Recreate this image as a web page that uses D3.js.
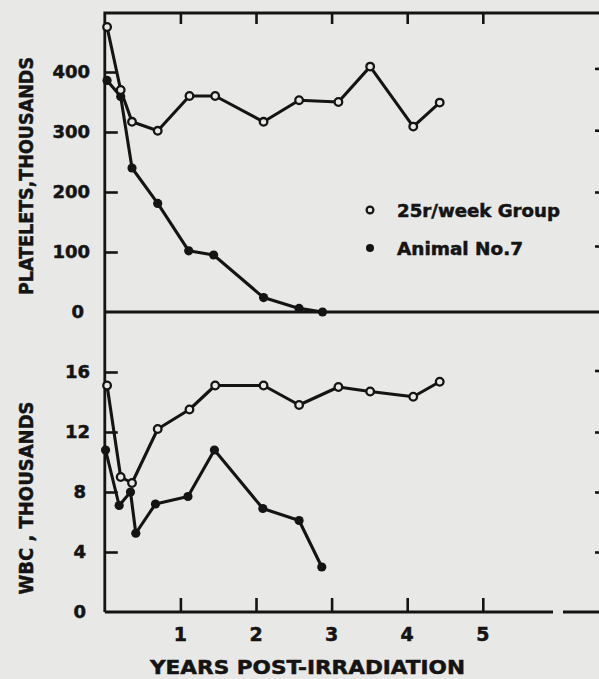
<!DOCTYPE html>
<html>
<head>
<meta charset="utf-8">
<script src="https://cdn.jsdelivr.net/npm/d3@7"></script>
<style>
  body { margin: 0; background: #e8e8e6; }
  svg { display: block; }
  text { font-family: "DejaVu Sans", sans-serif; font-weight: bold; fill: #141414; stroke: #141414; stroke-width: 0.5; }
</style>
</head>
<body>
<div id="chart"></div>
<script>
// Data (years post-irradiation)
var groupYears = [0.03, 0.21, 0.36, 0.7, 1.12, 1.46, 2.1, 2.57, 3.09, 3.51, 4.08, 4.43];
var groupPlatelets = [475, 370, 317, 302, 360, 360, 317, 353, 350, 409, 309, 349];
var groupWbc = [15.1, 9.0, 8.6, 12.2, 13.5, 15.1, 15.1, 13.8, 15.0, 14.7, 14.35, 15.35];

var animalPlateletYears = [0.03, 0.21, 0.36, 0.7, 1.11, 1.44, 2.1, 2.57, 2.88];
var animalPlatelets = [386, 359, 240, 181, 102, 95, 24, 6, 0];
var animalWbcYears = [0.01, 0.19, 0.34, 0.41, 0.67, 1.1, 1.45, 2.09, 2.57, 2.87];
var animalWbc = [10.8, 7.1, 8.0, 5.25, 7.2, 7.7, 10.8, 6.9, 6.1, 3.0];

var yearTicks = [1, 2, 3, 4, 5];
var plateletTicks = [0, 100, 200, 300, 400];
var wbcTicks = [0, 4, 8, 12, 16];
var legendLabels = ["25r/week Group", "Animal No.7"];

var svgWidth = 599;
var svgHeight = 679;
var ink = "#141414";
var paper = "#e8e8e6";

var svg = d3.select("#chart")
    .append("svg")
    .attr("width", svgWidth)
    .attr("height", svgHeight);

// Scales
var xScale = d3.scaleLinear().domain([0, 5]).range([104.8, 482.8]);
var yTop = d3.scaleLinear().domain([0, 500]).range([312, 12]);
var yBottom = d3.scaleLinear().domain([0, 20]).range([612, 312]);

var frame = svg.append("g")
    .attr("stroke", ink)
    .attr("stroke-width", 2.8)
    .attr("fill", "none");

// Left axis (one line through both panels) and top border
frame.append("path")
    .attr("d", `M${xScale(0)},612 L${xScale(0)},13 L${svgWidth},13`);

// Top panel baseline
frame.append("line")
    .attr("x1", xScale(0)).attr("x2", svgWidth)
    .attr("y1", yTop(0)).attr("y2", yTop(0));

// Bottom x axis (with the small break seen in the print)
frame.append("line")
    .attr("x1", xScale(0)).attr("x2", 553)
    .attr("y1", yBottom(0)).attr("y2", yBottom(0));
frame.append("line")
    .attr("x1", 563).attr("x2", svgWidth)
    .attr("y1", yBottom(0)).attr("y2", yBottom(0));

// Axes with inward ticks
var xAxis = d3.axisTop(xScale).tickValues(yearTicks).tickSize(14).tickFormat("");
svg.append("g")
    .attr("transform", `translate(0, ${yBottom(0)})`)
    .call(xAxis);

var topBorderTicks = d3.axisBottom(xScale).tickValues(yearTicks).tickSize(11).tickFormat("");
svg.append("g")
    .attr("transform", "translate(0, 13)")
    .call(topBorderTicks);

var plateletAxis = d3.axisRight(yTop).tickValues(plateletTicks.slice(1)).tickSize(13).tickFormat("");
svg.append("g")
    .attr("transform", `translate(${xScale(0)}, 0)`)
    .call(plateletAxis);

var wbcAxis = d3.axisRight(yBottom).tickValues(wbcTicks.slice(1)).tickSize(13).tickFormat("");
svg.append("g")
    .attr("transform", `translate(${xScale(0)}, 0)`)
    .call(wbcAxis);

// Right frame ticks (tiny marks at the edge)
svg.append("g")
    .attr("transform", `translate(${svgWidth}, 0)`)
    .call(d3.axisLeft(yTop).tickValues([110, 200, 303, 406]).tickSize(4).tickFormat(""));
svg.append("g")
    .attr("transform", `translate(${svgWidth}, 0)`)
    .call(d3.axisLeft(yBottom).tickValues([4, 8, 12, 16.1]).tickSize(4).tickFormat(""));

svg.selectAll(".domain").remove();
svg.selectAll(".tick line").attr("stroke", ink).attr("stroke-width", 2.6);

// Tick labels
svg.selectAll(".plateletLabel")
    .data(plateletTicks)
    .enter()
    .append("text")
    .attr("x", d => d === 0 ? 84 : 90)
    .attr("y", d => yTop(d))
    .attr("dy", "0.36em")
    .attr("text-anchor", "end")
    .attr("font-size", 18)
    .text(d => d);

svg.selectAll(".wbcLabel")
    .data(wbcTicks)
    .enter()
    .append("text")
    .attr("x", d => d < 10 ? 86 : 90)
    .attr("y", d => yBottom(d))
    .attr("dy", "0.36em")
    .attr("text-anchor", "end")
    .attr("font-size", 18)
    .text(d => d);

svg.selectAll(".yearLabel")
    .data(yearTicks)
    .enter()
    .append("text")
    .attr("x", d => xScale(d))
    .attr("y", 641)
    .attr("text-anchor", "middle")
    .attr("font-size", 19)
    .text(d => d);

// Axis titles
svg.append("text")
    .attr("transform", "translate(33, 176) rotate(-90)")
    .attr("text-anchor", "middle")
    .attr("font-size", 20)
    .attr("textLength", 238)
    .attr("lengthAdjust", "spacingAndGlyphs")
    .text("PLATELETS,THOUSANDS");

svg.append("text")
    .attr("transform", "translate(33, 498) rotate(-90)")
    .attr("text-anchor", "middle")
    .attr("font-size", 20)
    .attr("textLength", 193)
    .attr("lengthAdjust", "spacingAndGlyphs")
    .text("WBC , THOUSANDS");

svg.append("text")
    .attr("x", 150)
    .attr("y", 674)
    .attr("font-size", 19)
    .attr("textLength", 315)
    .attr("lengthAdjust", "spacingAndGlyphs")
    .text("YEARS  POST-IRRADIATION");

// Series
function drawSeries(years, values, yScale, open) {
    var pts = years.map((t, i) => [xScale(t), yScale(values[i])]);
    svg.append("path")
        .attr("d", d3.line()(pts))
        .attr("fill", "none")
        .attr("stroke", ink)
        .attr("stroke-width", 3.1)
        .attr("stroke-linejoin", "round");
    svg.append("g").selectAll("circle")
        .data(pts)
        .enter()
        .append("circle")
        .attr("cx", d => d[0])
        .attr("cy", d => d[1])
        .attr("r", open ? 3.8 : 4.6)
        .attr("fill", open ? paper : ink)
        .attr("stroke", ink)
        .attr("stroke-width", open ? 2.3 : 0);
}

drawSeries(animalPlateletYears, animalPlatelets, yTop, false);
drawSeries(groupYears, groupPlatelets, yTop, true);
drawSeries(animalWbcYears, animalWbc, yBottom, false);
drawSeries(groupYears, groupWbc, yBottom, true);

// Legend
var legend = svg.append("g");
legend.selectAll("circle")
    .data(legendLabels)
    .enter()
    .append("circle")
    .attr("cx", 370)
    .attr("cy", (d, i) => 210 + i * 38)
    .attr("r", (d, i) => i === 0 ? 3.4 : 4)
    .attr("fill", (d, i) => i === 0 ? paper : ink)
    .attr("stroke", ink)
    .attr("stroke-width", (d, i) => i === 0 ? 2.2 : 0);

legend.selectAll("text")
    .data(legendLabels)
    .enter()
    .append("text")
    .attr("x", 397)
    .attr("y", (d, i) => 217 + i * 38)
    .attr("font-size", 17)
    .attr("textLength", (d, i) => i === 0 ? 163 : 126)
    .attr("lengthAdjust", "spacingAndGlyphs")
    .text(d => d);
</script>
</body>
</html>
